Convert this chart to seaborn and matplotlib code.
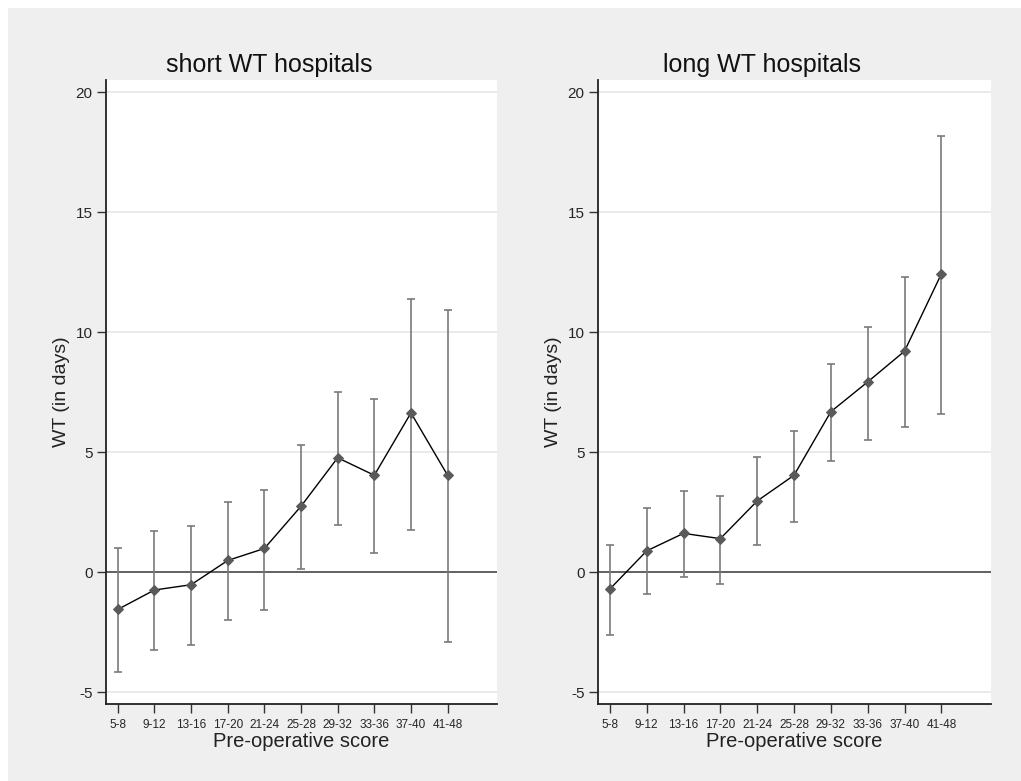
import numpy as np
import pandas as pd
import matplotlib
matplotlib.use("Agg")
import matplotlib.pyplot as plt
from matplotlib.patches import Rectangle
import seaborn as sns

categories = ["5-8", "9-12", "13-16", "17-20", "21-24", "25-28", "29-32", "33-36", "37-40", "41-48"]
short_mean = [-1.56, -0.75, -0.53, 0.48, 0.98, 2.74, 4.76, 4.03, 6.63, 4.03]
short_lo = [-4.15, -3.25, -3.03, -2.01, -1.57, 0.13, 1.97, 0.81, 1.76, -2.92]
short_hi = [1.01, 1.69, 1.92, 2.93, 3.43, 5.31, 7.49, 7.22, 11.38, 10.93]
long_mean = [-0.71, 0.88, 1.61, 1.39, 2.96, 4.03, 6.68, 7.92, 9.20, 12.42]
long_lo = [-2.64, -0.93, -0.21, -0.50, 1.13, 2.10, 4.63, 5.52, 6.03, 6.60]
long_hi = [1.13, 2.65, 3.38, 3.15, 4.79, 5.86, 8.67, 10.19, 12.29, 18.18]
titles = ["short WT hospitals", "long WT hospitals"]
yticks = [-5, 0, 5, 10, 15, 20]

sns.set_theme(style="white")
plt.rcParams["font.family"] = ["Liberation Sans", "DejaVu Sans"]

W, H = 1021, 781
fig = plt.figure(figsize=(W / 100, H / 100), dpi=100, facecolor="white")
fig.patches.append(Rectangle((8 / W, 0), 1 - 8 / W, 1 - 8 / H, transform=fig.transFigure,
                             facecolor="#efefef", edgecolor="none", zorder=-10))

panels = [
    (short_mean, short_lo, short_hi, 105.7, 391.0, 0.418),
    (long_mean, long_lo, long_hi, 597.7, 393.0, 0.418),
]

for (mean, lo, hi, x0, w, tx), title in zip(panels, titles):
    ax = fig.add_axes([x0 / W, 1 - 704 / H, w / W, 624 / H])
    ax.set_facecolor("white")
    pos = np.arange(len(categories))
    df = pd.DataFrame({"pos": pos, "mean": mean, "lo": lo, "hi": hi})
    for yv in yticks:
        if yv != 0:
            ax.axhline(yv, color="#e6e6e6", lw=1.2, zorder=0)
    ax.axhline(0, color="#555555", lw=1.3, zorder=1)
    ax.errorbar(df["pos"], df["mean"],
                yerr=[df["mean"] - df["lo"], df["hi"] - df["mean"]],
                fmt="none", ecolor="#7a7a7a", elinewidth=1.2, capsize=3, capthick=1.2, zorder=2)
    sns.lineplot(data=df, x="pos", y="mean", ax=ax, color="black", lw=1.0,
                 marker="D", markersize=5, markerfacecolor="#5a5a5a",
                 markeredgecolor="#5a5a5a", zorder=3)
    ax.set_xlim(-0.33, 10.34)
    ax.set_ylim(-5.5, 20.5)
    ax.set_xticks(pos)
    ax.set_xticklabels(categories, fontsize=8.5, family=["Liberation Sans Narrow", "Liberation Sans"])
    ax.set_yticks(yticks)
    ax.set_yticklabels([str(v) for v in yticks], fontsize=11)
    ax.tick_params(axis="both", which="both", direction="out", length=6.5, width=1.0,
                   color="#333333", bottom=True, left=True, pad=3)
    ax.tick_params(axis="x", pad=4)
    for s in ["top", "right"]:
        ax.spines[s].set_visible(False)
    for s in ["left", "bottom"]:
        ax.spines[s].set_color("#222222")
        ax.spines[s].set_linewidth(1.3)
    ax.set_xlabel("Pre-operative score", fontsize=14.5, color="#222222", labelpad=1)
    ax.set_ylabel("WT (in days)", fontsize=14, color="#222222", labelpad=4)
    ax.set_title(title, fontsize=18, x=tx, pad=6, color="#111111")

fig.savefig("out.png", dpi=100, facecolor=fig.get_facecolor())
